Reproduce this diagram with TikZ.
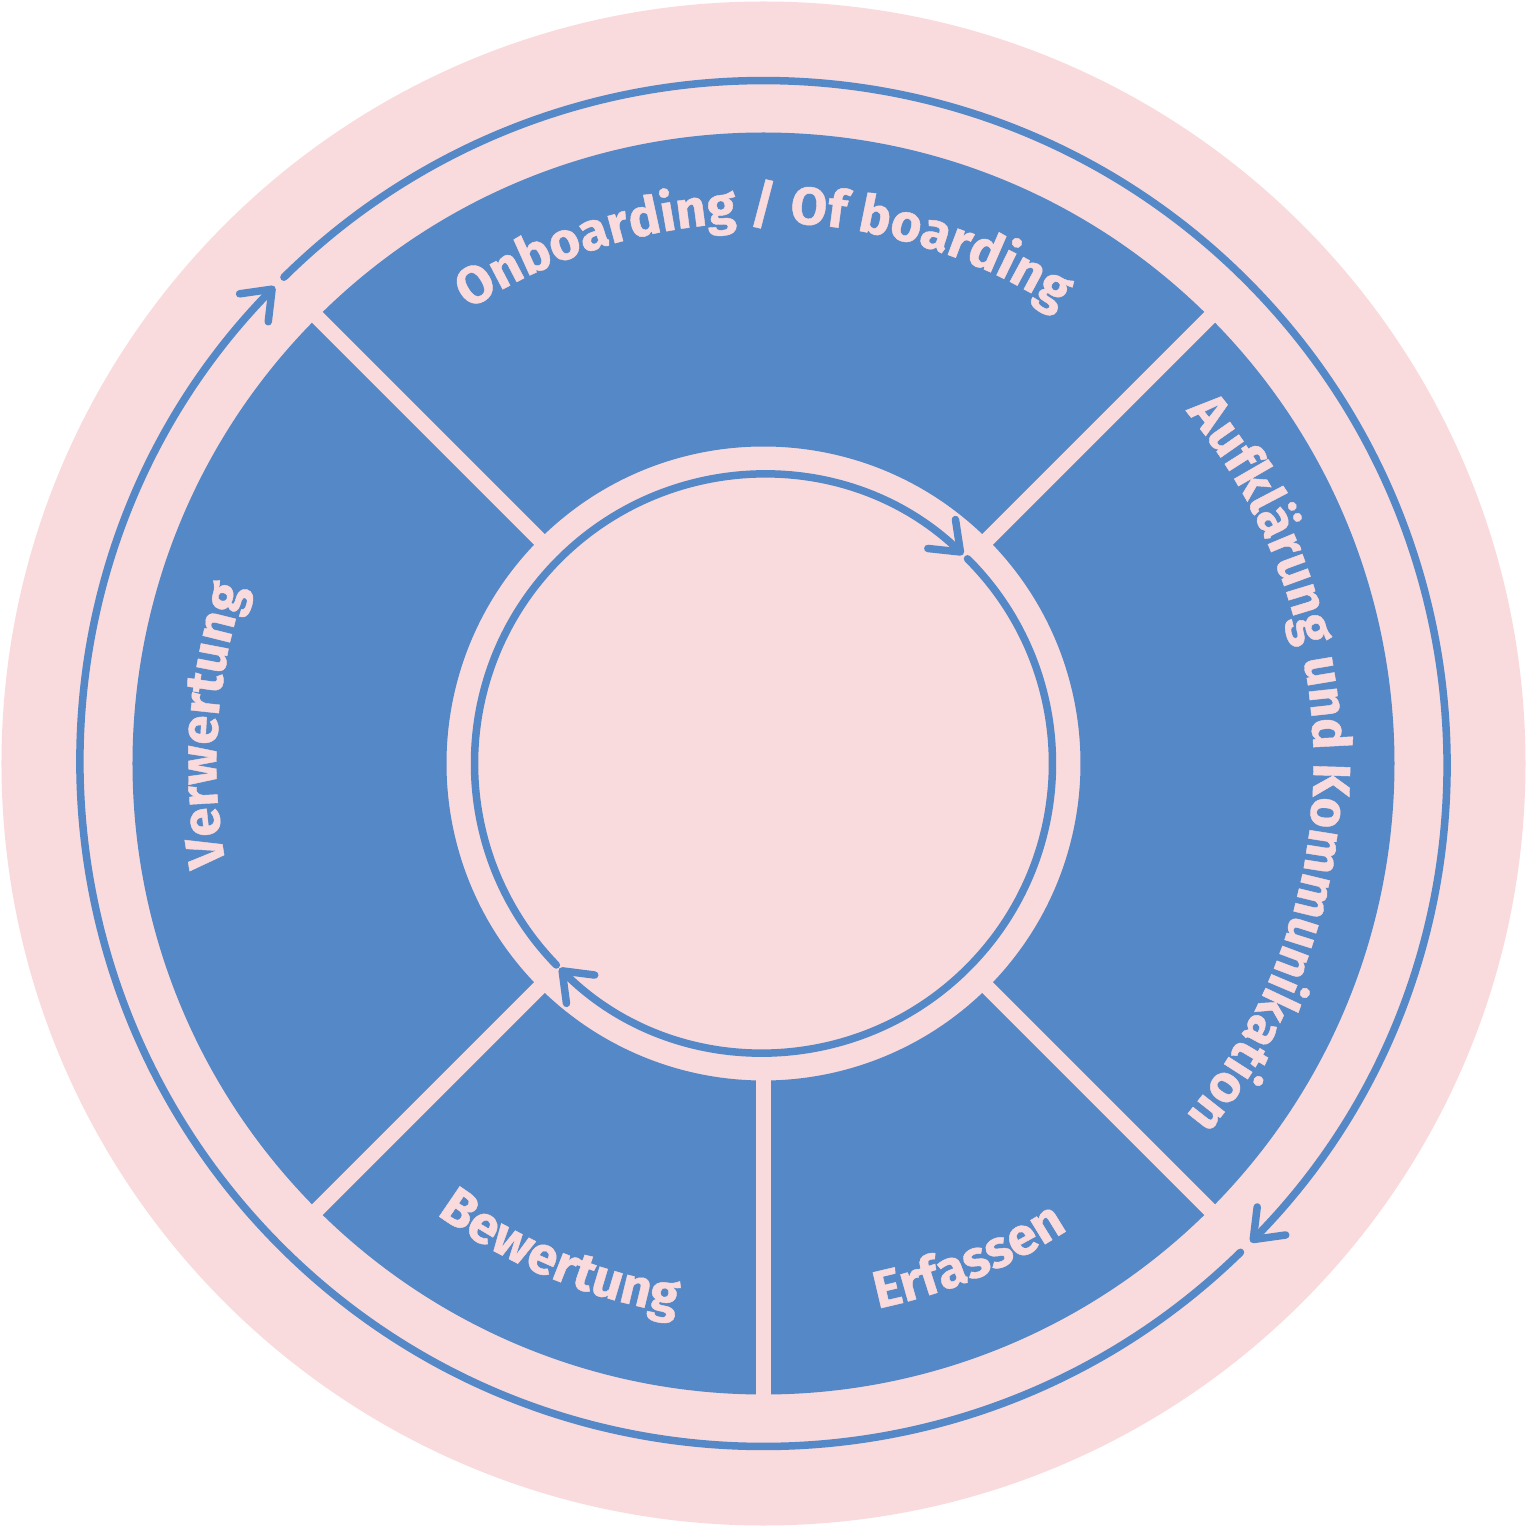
\documentclass[tikz,border=0pt]{standalone}
\usepackage{fontspec}
\setmainfont{Fira Sans}[BoldFeatures={FakeBold=0.8}]
\usetikzlibrary{arrows.meta}
\usetikzlibrary{decorations.text}

\definecolor{wheelblue}{HTML}{5588C6}
\definecolor{wheelpink}{HTML}{FADBDD}
\newcommand{\lbl}{\fontsize{15}{18}\selectfont\bfseries}

\begin{document}
\begin{tikzpicture}[
  wedge/.style={fill=wheelblue},
  divider/.style={draw=wheelpink, line width=1.5mm},
  cyclering/.style={draw=wheelblue, line width=0.75mm, line cap=round},
  cyclearrow/.style={cyclering, -{Straight Barb[length=2.6mm, width=4mm, round]}},
  arclabel/.style={decorate, decoration={text along path, text align=center,
    text color=wheelpink, text={|\lbl|#1}}}
]
\useasboundingbox (-7.635,-7.635) rectangle (7.635,7.635);
\coordinate (c) at (0,0);

% Background disc
\fill[wheelpink] (c) circle (7.62);

% Blue segments
\foreach \a/\b in {45/135, -45/45, -90/-45, -135/-90, 135/225} {
    \fill[wedge] (\a:3.17) arc[start angle=\a, end angle=\b, radius=3.17]
        -- (\b:6.31) arc[start angle=\b, end angle=\a, radius=6.31] -- cycle;
}

% Dividers between the segments
\foreach \a in {45,135,225,270,315} {
    \draw[divider] (\a:3.0) -- (\a:6.45);
}

% Outer cycle
\draw[cyclearrow] (134.6:6.83) arc[start angle=134.6, end angle=-44.5, radius=6.83];
\draw[cyclearrow] (-45.7:6.83) arc[start angle=-45.7, end angle=-224.3, radius=6.83];

% Inner cycle
\draw[cyclearrow] (224.2:2.89) arc[start angle=224.2, end angle=46.3, radius=2.89];
\draw[cyclearrow] (45.1:2.89) arc[start angle=45.1, end angle=-134.9, radius=2.89];

% Labels along the segments
\path[arclabel={Onboarding / Of boarding}] (130:5.41) arc[start angle=130, end angle=50, radius=5.41];
\path[arclabel={Aufklärung und Kommunikation}] (48:5.50) arc[start angle=48, end angle=-48, radius=5.50];
\path[arclabel={Erfassen}] (-100:5.57) arc[start angle=-100, end angle=-35, radius=5.57];
\path[arclabel={Bewertung}] (-145:5.57) arc[start angle=-145, end angle=-80, radius=5.57];
\path[arclabel={Verwertung}] (221:5.47) arc[start angle=221, end angle=131, radius=5.47];

\end{tikzpicture}
\end{document}
